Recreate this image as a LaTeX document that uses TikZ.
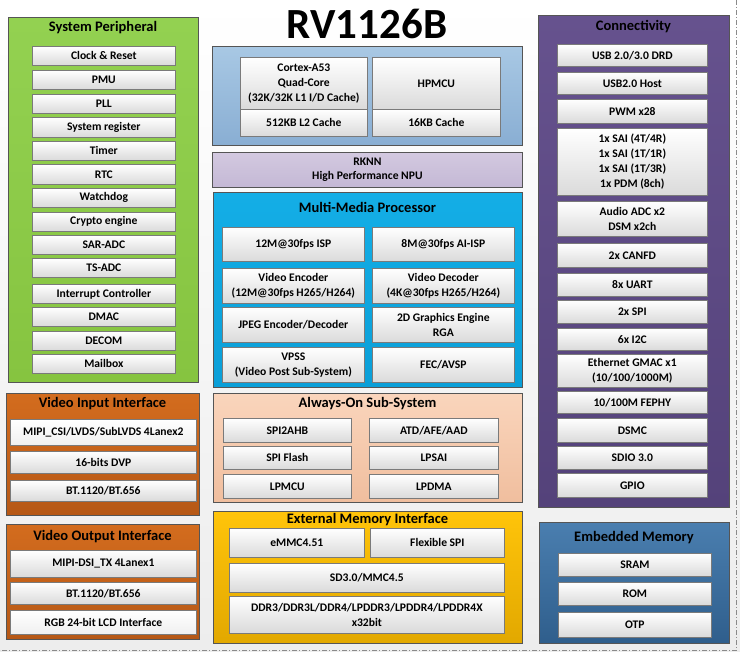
\documentclass[tikz,border=0pt]{standalone}
\usepackage{fontspec}
\setmainfont{Carlito}
\definecolor{obd}{HTML}{555555}
\definecolor{ibd}{HTML}{7A7A7A}
\definecolor{ibb}{HTML}{DADADA}
\definecolor{spA}{HTML}{93D151}
\definecolor{spB}{HTML}{86C440}
\definecolor{orA}{HTML}{D36C1E}
\definecolor{orB}{HTML}{B65816}
\definecolor{cpA}{HTML}{A8C8E4}
\definecolor{cpB}{HTML}{89AED3}
\definecolor{nnA}{HTML}{D3C9E0}
\definecolor{nnB}{HTML}{C4B8D5}
\definecolor{mmA}{HTML}{14AEE6}
\definecolor{mmB}{HTML}{0A9FD8}
\definecolor{aoA}{HTML}{FAD5BC}
\definecolor{aoB}{HTML}{F0BE9E}
\definecolor{emA}{HTML}{FFC40A}
\definecolor{emB}{HTML}{E2A800}
\definecolor{cnA}{HTML}{66528E}
\definecolor{cnB}{HTML}{54427A}
\definecolor{mbA}{HTML}{4A7EAF}
\definecolor{mbB}{HTML}{2F5E8C}
\definecolor{bgB}{HTML}{EDEDED}
\definecolor{brd}{HTML}{8A8A8A}
\tikzset{
  ib/.style={draw=ibd, line width=0.7pt, top color=white, bottom color=ibb,
    inner sep=1pt, align=center, font=\bfseries\fontsize{11.6}{15}\selectfont},
  ibw/.style={ib, top color=white, bottom color=white!94!black},
  ob/.style 2 args={draw=obd, line width=0.9pt, top color=#1, bottom color=#2, inner sep=0pt},
  ttl/.style={font=\bfseries\fontsize{14.5}{16}\selectfont, inner sep=0pt},
}
\newcommand\bx[7]{\node[#1, anchor=north west, minimum width={(#5-#3)*1pt}, minimum height={(#6-#4)*1pt}] (#2) at (#3,#4) {#7};}
\begin{document}
\begin{tikzpicture}[x=1pt,y=-1pt]
\useasboundingbox (0,0) rectangle (740,652);
\shade[top color=white, bottom color=bgB] (0,0) rectangle (740,652);
% dashed frame
\coordinate (fr1) at (736.5,0);
\coordinate (fr2) at (736.5,650.5);
\coordinate (fr3) at (0,650.5);
\draw[brd, line width=0.8pt, dash pattern=on 5pt off 2pt on 1pt off 2pt] (fr1) -- (fr2) -- (fr3);

% title
\node[font=\bfseries\fontsize{43}{46}\selectfont, inner sep=0pt] (chip) at (367,24) {RV1126B};

% ===== System Peripheral =====
\bx{ob={spA}{spB}}{sp}{8}{17}{198}{382}{}
\node[ttl] (spT) at (103,27.5) {System Peripheral};
\bx{ib}{sp1}{32}{46}{175}{65}{Clock \& Reset}
\bx{ib}{sp2}{32}{70}{175}{89}{PMU}
\bx{ib}{sp3}{32}{94}{175}{113}{PLL}
\bx{ib}{sp4}{32}{117}{175}{137}{System register}
\bx{ib}{sp5}{32}{141}{175}{160}{Timer}
\bx{ib}{sp6}{32}{164}{175}{184}{RTC}
\bx{ib}{sp7}{32}{188}{175}{207}{Watchdog}
\bx{ib}{sp8}{32}{212}{175}{231}{Crypto engine}
\bx{ib}{sp9}{32}{235}{175}{254}{SAR-ADC}
\bx{ib}{sp10}{32}{258}{175}{277}{TS-ADC}
\bx{ib}{sp11}{32}{284}{175}{303}{Interrupt Controller}
\bx{ib}{sp12}{32}{307}{175}{326}{DMAC}
\bx{ib}{sp13}{32}{331}{175}{350}{DECOM}
\bx{ib}{sp14}{32}{354}{175}{373}{Mailbox}

% ===== Video Input =====
\bx{ob={orA}{orB}}{vi}{6}{393}{199}{515}{}
\node[ttl] (viT) at (102.5,403.5) {Video Input Interface};
\bx{ibw}{vi1}{10}{419}{196}{445}{MIPI\_CSI/LVDS/SubLVDS 4Lanex2}
\bx{ib}{vi2}{10}{451}{196}{473}{16-bits DVP}
\bx{ib}{vi3}{10}{480}{196}{501}{BT.1120/BT.656}

% ===== Video Output =====
\bx{ob={orA}{orB}}{vo}{6}{524}{199}{639}{}
\node[ttl] (voT) at (102.5,536.5) {Video Output Interface};
\bx{ib}{vo1}{10}{550}{196}{577}{MIPI-DSI\_TX 4Lanex1}
\bx{ib}{vo2}{10}{582}{196}{604}{BT.1120/BT.656}
\bx{ibw}{vo3}{10}{610}{196}{634}{RGB 24-bit LCD Interface}

% ===== CPU =====
\bx{ob={cpA}{cpB}}{cpu}{212}{46}{522}{145}{}
\bx{ib}{a53}{240}{57}{367}{109}{Cortex-A53\\Quad-Core\\(32K/32K L1 I/D Cache)}
\bx{ib}{l2}{240}{109}{367}{136}{512KB L2 Cache}
\bx{ib}{hp}{372}{57}{500}{109}{HPMCU}
\bx{ib}{hpc}{372}{109}{500}{136}{16KB Cache}

% ===== RKNN =====
\bx{ob={nnA}{nnB}, font=\bfseries\fontsize{11.6}{14}\selectfont, align=center}{npu}{212}{152}{522}{187}{RKNN\\High Performance NPU}

% ===== Multi-Media =====
\bx{ob={mmA}{mmB}}{mm}{213}{192}{522}{387}{}
\node[ttl] (mmT) at (367.5,207) {Multi-Media Processor};
\bx{ib}{mm1}{222}{227}{364}{261}{12M@30fps ISP}
\bx{ib}{mm2}{372}{227}{514}{261}{8M@30fps AI-ISP}
\bx{ib}{mm3}{222}{268}{364}{303}{Video Encoder\\(12M@30fps H265/H264)}
\bx{ib}{mm4}{372}{268}{514}{303}{Video Decoder\\(4K@30fps H265/H264)}
\bx{ib}{mm5}{222}{307}{364}{342}{JPEG Encoder/Decoder}
\bx{ib}{mm6}{372}{307}{514}{342}{2D Graphics Engine\\RGA}
\bx{ib}{mm7}{222}{347}{364}{382}{VPSS\\(Video Post Sub-System)}
\bx{ib}{mm8}{372}{347}{514}{382}{FEC/AVSP}

% ===== Always-On =====
\bx{ob={aoA}{aoB}}{ao}{213}{393}{522}{502}{}
\node[ttl] (aoT) at (367.5,404) {Always-On Sub-System};
\bx{ib}{ao1}{223}{418}{351}{442}{SPI2AHB}
\bx{ib}{ao2}{369}{418}{498}{442}{ATD/AFE/AAD}
\bx{ib}{ao3}{223}{446}{351}{469}{SPI Flash}
\bx{ib}{ao4}{369}{446}{498}{469}{LPSAI}
\bx{ib}{ao5}{223}{474}{351}{498}{LPMCU}
\bx{ib}{ao6}{369}{474}{498}{498}{LPDMA}

% ===== External Memory =====
\bx{ob={emA}{emB}}{em}{213}{511}{522}{643}{}
\node[ttl] (emT) at (367.5,519.5) {External Memory Interface};
\bx{ib}{em1}{229}{528}{364}{557}{eMMC4.51}
\bx{ib}{em2}{370}{528}{504}{557}{Flexible SPI}
\bx{ib}{em3}{229}{563}{504}{592}{SD3.0/MMC4.5}
\bx{ib}{em4}{229}{596}{504}{633}{DDR3/DDR3L/DDR4/LPDDR3/LPDDR4/LPDDR4X\\x32bit}

% ===== Connectivity =====
\bx{ob={cnA}{cnB}}{cn}{538}{15}{729}{507}{}
\node[ttl] (cnT) at (633.5,27) {Connectivity};
\bx{ib}{cn1}{557}{44}{707}{66}{USB 2.0/3.0 DRD}
\bx{ib}{cn2}{557}{72}{707}{94}{USB2.0 Host}
\bx{ib}{cn3}{557}{99}{707}{123}{PWM x28}
\bx{ib}{cn4}{557}{128}{707}{195}{1x SAI (4T/4R)\\1x SAI (1T/1R)\\1x SAI (1T/3R)\\1x PDM (8ch)}
\bx{ib}{cn5}{557}{201}{707}{236}{Audio ADC x2\\DSM x2ch}
\bx{ib}{cn6}{557}{243}{707}{267}{2x CANFD}
\bx{ib}{cn7}{557}{273}{707}{296}{8x UART}
\bx{ib}{cn8}{557}{300}{707}{323}{2x SPI}
\bx{ib}{cn9}{557}{328}{707}{350}{6x I2C}
\bx{ib}{cn10}{557}{354}{707}{387}{Ethernet GMAC x1\\(10/100/1000M)}
\bx{ib}{cn11}{557}{391}{707}{413}{10/100M FEPHY}
\bx{ib}{cn12}{557}{418}{707}{442}{DSMC}
\bx{ib}{cn13}{557}{446}{707}{469}{SDIO 3.0}
\bx{ib}{cn14}{557}{473}{707}{497}{GPIO}

% ===== Embedded Memory =====
\bx{ob={mbA}{mbB}}{mb}{539}{522}{729}{643}{}
\node[ttl] (mbT) at (634,537.5) {Embedded Memory};
\bx{ib}{mb1}{558}{553}{711}{576}{SRAM}
\bx{ib}{mb2}{558}{582}{711}{605}{ROM}
\bx{ib}{mb3}{558}{612}{711}{637}{OTP}
\end{tikzpicture}
\end{document}
